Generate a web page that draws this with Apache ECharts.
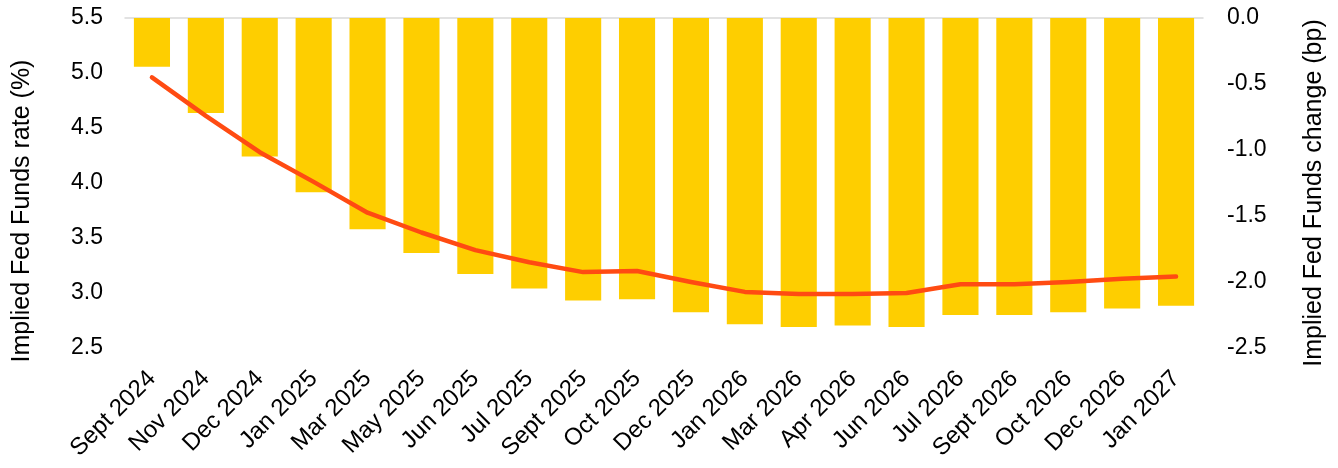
<!DOCTYPE html>
<html>
<head>
<meta charset="utf-8">
<style>
  html, body { margin: 0; padding: 0; background: #ffffff; }
  #chart { width: 1338px; height: 468px; }
</style>
<script src="https://cdn.jsdelivr.net/npm/echarts@6/dist/echarts.min.js"></script>
</head>
<body>
<div id="chart"></div>
<script>
// Meeting months
const categories = [
  'Sept 2024', 'Nov 2024', 'Dec 2024', 'Jan 2025', 'Mar 2025', 'May 2025',
  'Jun 2025', 'Jul 2025', 'Sept 2025', 'Oct 2025', 'Dec 2025', 'Jan 2026',
  'Mar 2026', 'Apr 2026', 'Jun 2026', 'Jul 2026', 'Sept 2026', 'Oct 2026',
  'Dec 2026', 'Jan 2027'
];

// Implied Fed Funds rate (%), left axis
const impliedRate = [
  4.96, 4.61, 4.28, 4.01, 3.73, 3.55, 3.39, 3.28, 3.19, 3.20,
  3.10, 3.01, 2.99, 2.99, 3.00, 3.08, 3.08, 3.10, 3.13, 3.15
];

// Implied Fed Funds change, right axis
const impliedChange = [
  -0.37, -0.72, -1.05, -1.32, -1.60, -1.78, -1.94, -2.05, -2.14, -2.13,
  -2.23, -2.32, -2.34, -2.33, -2.34, -2.25, -2.25, -2.23, -2.20, -2.18
];

// Axis titles
const leftTitle = 'Implied Fed Funds rate (%)';
const rightTitle = 'Implied Fed Funds change (bp)';

const FONT = '"Liberation Sans", Arial, sans-serif';
const TEXT = '#000000';
const TICK_SIZE = 23;
const CAT_SIZE = 24;
const TITLE_SIZE = 25;

const chart = echarts.init(document.getElementById('chart'));
chart.setOption({
  animation: false,
  backgroundColor: '#ffffff',
  grid: { left: 125, right: 135, top: 18, bottom: 120, containLabel: false },
  xAxis: {
    type: 'category',
    data: categories,
    boundaryGap: true,
    axisLine: { show: true, lineStyle: { color: '#d9d9d9', width: 1.5 } },
    axisTick: { show: false },
    axisLabel: {
      rotate: 45,
      interval: 0,
      margin: 27,
      color: TEXT,
      fontFamily: FONT,
      fontSize: CAT_SIZE
    }
  },
  yAxis: [
    {
      type: 'value',
      position: 'left',
      min: 2.5,
      max: 5.5,
      interval: 0.5,
      axisLine: { show: false },
      axisTick: { show: false },
      splitLine: { show: false },
      axisLabel: {
        margin: 22,
        color: TEXT,
        fontFamily: FONT,
        fontSize: TICK_SIZE,
        formatter: v => v.toFixed(1)
      }
    },
    {
      type: 'value',
      position: 'right',
      min: -2.5,
      max: 0,
      interval: 0.5,
      axisLine: { show: false },
      axisTick: { show: false },
      splitLine: { show: false },
      axisLabel: {
        margin: 24,
        color: TEXT,
        fontFamily: FONT,
        fontSize: TICK_SIZE,
        formatter: v => v.toFixed(1)
      }
    }
  ],
  graphic: [
    {
      type: 'text',
      x: 22,
      y: 211,
      rotation: Math.PI / 2,
      style: {
        text: leftTitle,
        fill: TEXT,
        font: TITLE_SIZE + 'px ' + FONT,
        align: 'center',
        verticalAlign: 'middle'
      }
    },
    {
      type: 'text',
      x: 1314,
      y: 193,
      rotation: Math.PI / 2,
      style: {
        text: rightTitle,
        fill: TEXT,
        font: TITLE_SIZE + 'px ' + FONT,
        align: 'center',
        verticalAlign: 'middle'
      }
    }
  ],
  series: [
    {
      name: 'Implied Fed Funds change',
      type: 'bar',
      yAxisIndex: 1,
      data: impliedChange,
      barCategoryGap: '33%',
      itemStyle: { color: '#FECE00' },
      z: 2
    },
    {
      name: 'Implied Fed Funds rate',
      type: 'line',
      yAxisIndex: 0,
      data: impliedRate,
      symbol: 'none',
      lineStyle: { color: '#FF4B12', width: 4.5, cap: 'round', join: 'round' },
      z: 3
    }
  ]
});
</script>
</body>
</html>
